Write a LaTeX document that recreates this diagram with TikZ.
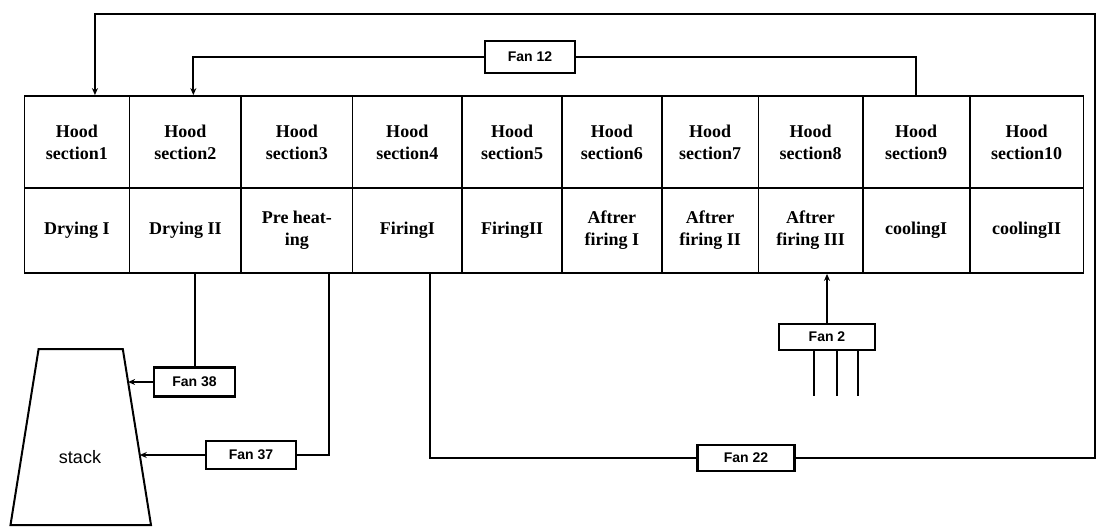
\documentclass[tikz,border=0pt]{standalone}
\usepackage{fontspec}
\setmainfont{Liberation Serif}
\setsansfont{Liberation Sans}
\usetikzlibrary{arrows.meta,calc}
\tikzset{
  cell/.style={draw,line width=1.8pt,inner sep=0pt,align=center,
    font=\bfseries\fontsize{18}{22}\selectfont},
  fan/.style={draw,line width=2.4pt,inner sep=0pt,
    font=\sffamily\bfseries\fontsize{14}{16}\selectfont},
  duct/.style={line width=2pt},
  flow/.style={duct,-{Stealth[length=7pt,width=6pt]}}
}

\begin{document}
\begin{tikzpicture}[x=1pt,y=-1pt]
  \useasboundingbox (0,0) rectangle (1097,527);
  % hood sections and kiln stages
  \foreach \i/\xa/\xb/\stage in {1/24.5/129.4/Drying I,2/129.4/241.3/Drying II,
      3/241.3/352.5/{Pre heat-\\ing},4/352.5/462/FiringI,5/462/562/FiringII,
      6/562/661.8/{Aftrer\\firing I},7/661.8/758.5/{Aftrer\\firing II},
      8/758.5/862.6/{Aftrer\\firing III},9/862.6/969.8/coolingI,10/969.8/1083.5/coolingII}{
    \pgfmathsetmacro\w{\xb-\xa}
    \node[cell,minimum width=\w pt,minimum height=92pt] (h\i) at ({(\xa+\xb)/2},142) {Hood\\section\i};
    \node[cell,minimum width=\w pt,minimum height=85pt] (s\i) at ({(\xa+\xb)/2},230.5) {\stage};
  }

  % fans
  \node[fan,minimum width=90pt,minimum height=32pt] (fan12) at (530,57) {Fan 12};
  \node[fan,minimum width=81pt,minimum height=29pt] (fan38) at (194.5,382) {Fan 38};
  \node[fan,minimum width=90pt,minimum height=28pt] (fan37) at (251,455) {Fan 37};
  \node[fan,minimum width=97pt,minimum height=26pt] (fan22) at (746,458) {Fan 22};
  \node[fan,minimum width=96pt,minimum height=26pt] (fan2) at (827,337) {Fan 2};

  % stack
  \coordinate (stTL) at (38.6,349);
  \coordinate (stTR) at (122.8,349);
  \coordinate (stBR) at (151,525);
  \coordinate (stBL) at (10.5,525);
  \draw[duct] (stTL) -- (stTR) -- (stBR) -- (stBL) -- cycle;
  \node[font=\sffamily\fontsize{18}{20}\selectfont] (stack) at (80,457) {stack};
  \coordinate (in38) at ($(stTR)!0.1875!(stBR)$);
  \coordinate (in37) at ($(stTR)!0.602!(stBR)$);

  % ducts
  \coordinate (ne) at (1095,14);
  \coordinate (se) at (1095,458);
  \draw[flow] (fan22.east) -- (se) -- (ne) -| ([xshift=18pt]h1.north);
  \draw[duct] (fan22.west) -| ([xshift=23pt]s4.south);
  \draw[flow] (fan12.west) -| ([xshift=8pt]h2.north);
  \draw[duct] (fan12.east) -| (h9.north);
  \draw[duct] (fan38.north) -- (fan38.north |- s2.south);
  \draw[flow] (fan38.west) -- (fan38.west -| in38);
  \draw[duct] ([xshift=32pt]s3.south) |- (fan37.east);
  \draw[flow] (fan37.west) -- (fan37.west -| in37);
  \draw[flow] (fan2.north) -- (fan2.north |- s8.south);
  \foreach \dx in {-13,10,31}
    \draw[duct] ([xshift=\dx pt]fan2.south) -- ++(0,45);
\end{tikzpicture}
\end{document}
